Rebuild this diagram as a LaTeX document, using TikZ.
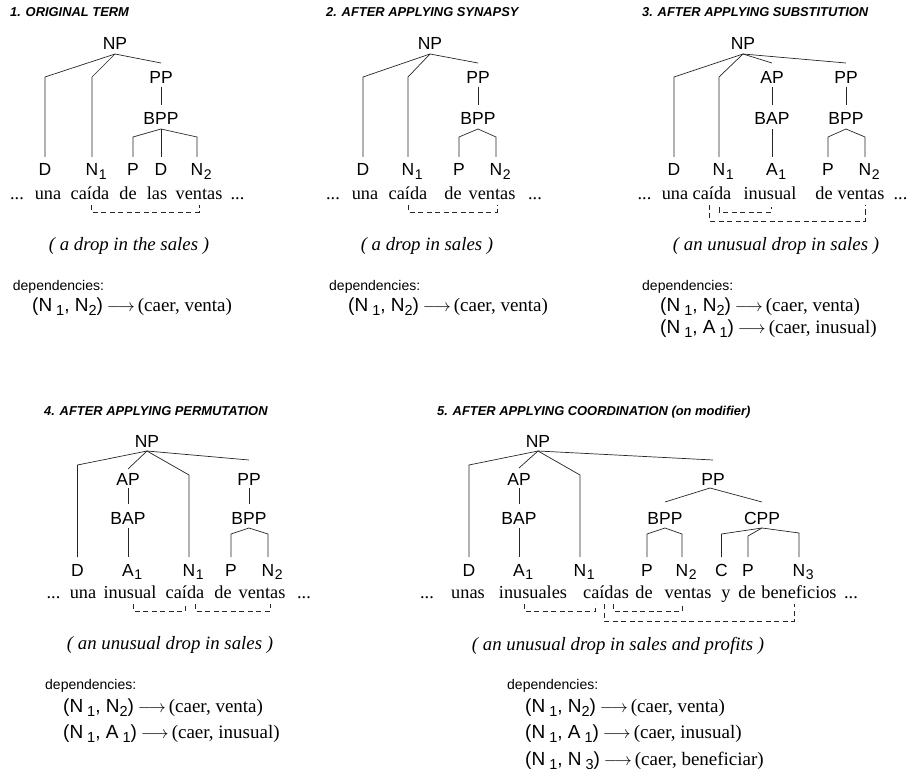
\documentclass[tikz,border=0pt]{standalone}
\usepackage{fontspec}
\setmainfont{Liberation Serif}
\setsansfont{Liberation Sans}
\usetikzlibrary{calc}
% subscript that does not widen the node (lines attach above the letter)
\newcommand\tsub[1]{\rlap{\hspace{0.6pt}\raisebox{-3.5pt}{\fontsize{14}{14}\selectfont #1}}}
% subscript used in the dependency lists
\newcommand\dsub[1]{\raisebox{-4pt}{\fontsize{14.5}{14.5}\selectfont #1}}
\newcommand\darr{\hspace{4pt}$\longrightarrow$\hspace{3pt}}

\begin{document}
\begin{tikzpicture}[x=1pt,y=-1pt,
  tn/.style={font=\sffamily\fontsize{17.5}{17.5}\selectfont, inner sep=0pt, outer sep=0pt, text height=12pt, text depth=0pt},
  wd/.style={font=\fontsize{18.3}{18.3}\selectfont, inner sep=0pt, anchor=base},
  ttl/.style={font=\sffamily\bfseries\itshape\fontsize{12.9}{12.9}\selectfont, inner sep=0pt, anchor=base west},
  gl/.style={font=\itshape\fontsize{18.8}{18.8}\selectfont, inner sep=0pt},
  dh/.style={font=\sffamily\fontsize{14}{14}\selectfont, inner sep=0pt, anchor=base west},
  dl/.style={font=\fontsize{19}{19}\selectfont, inner sep=0pt, anchor=base west},
  tl/.style={line width=0.7pt, black!85},
  tleaf/.style={tl, shorten >=7pt},
  tvert/.style={tl, shorten >=8pt},
  dep/.style={line width=0.6pt, black!85, dash pattern=on 5pt off 3.5pt}
]
\useasboundingbox (0,0) rectangle (911,773);

% ---------------- 1. original term ----------------
\node[ttl] (t1) at (10,17) {1. ORIGINAL TERM};
\node[tn] (np1) at (115,44) {NP};
\node[tn] (pp1) at (161,78) {PP};
\node[tn] (bpp1) at (161,119) {BPP};
\node[tn] (d1) at (45,170) {D};
\node[tn] (n1) at (92,170) {N\tsub{1}};
\node[tn] (p1) at (133,170) {P};
\node[tn] (dd1) at (161,170) {D};
\node[tn] (nn1) at (197,170) {N\tsub{2}};
\coordinate (np1x) at ([yshift=-4pt]np1.south);
\draw[tleaf] (np1x) -- (d1 |- 0,77) -- (d1.north);
\draw[tleaf] (np1x) -- (n1 |- 0,77) -- (n1.north);
\draw[tl] (np1x) -- (pp1 |- 0,63);
\draw[tvert] ([yshift=-3pt]pp1.south) -- (bpp1.north);
\coordinate (bpp1x) at ([yshift=-4pt]bpp1.south);
\draw[tleaf] (bpp1x) -- (p1 |- 0,137) -- (p1.north);
\draw[tleaf] (bpp1x) -- (dd1.north);
\draw[tleaf] (bpp1x) -- (nn1 |- 0,137) -- (nn1.north);
\node[wd] (w1a) at (17,199.5) {...};
\node[wd] (una1) at (48,199.5) {una};
\node[wd] (caida1) at (90,199.5) {caída};
\node[wd] (de1) at (128,199.5) {de};
\node[wd] (las1) at (157,199.5) {las};
\node[wd] (ventas1) at (199,199.5) {ventas};
\node[wd] (w1b) at (237.5,199.5) {...};
\draw[dep] ([xshift=1pt,yshift=-5.5pt]caida1.base) |- ([yshift=-12.5pt]ventas1.base) -- ([yshift=-5.5pt]ventas1.base);
\node[gl] (g1) at (129,246) {( a drop in the sales )};
\node[dh] (dh1) at (12.7,290) {dependencies:};
\node[dl] (dl1) at (32,311.5) {{\sffamily (N\hspace{4pt}\dsub{1}, N\dsub{2})}\darr(caer, venta)};

% ---------------- 2. synapsy ----------------
\node[ttl] (t2) at (326,17) {2. AFTER APPLYING SYNAPSY};
\node[tn] (np2) at (430,44) {NP};
\node[tn] (pp2) at (478,78) {PP};
\node[tn] (bpp2) at (478,119) {BPP};
\node[tn] (d2) at (363,170) {D};
\node[tn] (n2) at (408,170) {N\tsub{1}};
\node[tn] (p2) at (459,170) {P};
\node[tn] (nn2) at (496,170) {N\tsub{2}};
\coordinate (np2x) at ([yshift=-4pt]np2.south);
\draw[tleaf] (np2x) -- (d2 |- 0,77) -- (d2.north);
\draw[tleaf] (np2x) -- (n2 |- 0,77) -- (n2.north);
\draw[tl] (np2x) -- (pp2 |- 0,63);
\draw[tvert] ([yshift=-3pt]pp2.south) -- (bpp2.north);
\coordinate (bpp2x) at ([yshift=-4pt]bpp2.south);
\draw[tleaf] (bpp2x) -- (p2 |- 0,137) -- (p2.north);
\draw[tleaf] (bpp2x) -- (nn2 |- 0,137) -- (nn2.north);
\node[wd] (w2a) at (333,199.5) {...};
\node[wd] (una2) at (365,199.5) {una};
\node[wd] (caida2) at (408,199.5) {caída};
\node[wd] (de2) at (453,199.5) {de};
\node[wd] (ventas2) at (492,199.5) {ventas};
\node[wd] (w2b) at (535,199.5) {...};
\draw[dep] ([yshift=-5.5pt]caida2.base) |- ([xshift=5pt,yshift=-12.5pt]ventas2.base) -- ([xshift=5pt,yshift=-5.5pt]ventas2.base);
\node[gl] (g2) at (427,246) {( a drop in sales )};
\node[dh] (dh2) at (329,290) {dependencies:};
\node[dl] (dl2) at (348,311.5) {{\sffamily (N\hspace{4pt}\dsub{1}, N\dsub{2})}\darr(caer, venta)};

% ---------------- 3. substitution ----------------
\node[ttl] (t3) at (642,17) {3. AFTER APPLYING SUBSTITUTION};
\node[tn] (np3) at (743,44) {NP};
\node[tn] (ap3) at (772,78) {AP};
\node[tn] (bap3) at (772,119) {BAP};
\node[tn] (pp3) at (846,78) {PP};
\node[tn] (bpp3) at (846,119) {BPP};
\node[tn] (d3) at (674,170) {D};
\node[tn] (n3) at (719,170) {N\tsub{1}};
\node[tn] (a3) at (772,170) {A\tsub{1}};
\node[tn] (p3) at (828,170) {P};
\node[tn] (nn3) at (865,170) {N\tsub{2}};
\coordinate (np3x) at ([yshift=-4pt]np3.south);
\draw[tleaf] (np3x) -- (d3 |- 0,77) -- (d3.north);
\draw[tleaf] (np3x) -- (n3 |- 0,77) -- (n3.north);
\draw[tl] (np3x) -- (ap3 |- 0,63);
\draw[tl] (np3x) -- (pp3 |- 0,63);
\draw[tvert] ([yshift=-3pt]ap3.south) -- (bap3.north);
\draw[tleaf] ([yshift=-4pt]bap3.south) -- (a3.north);
\draw[tvert] ([yshift=-3pt]pp3.south) -- (bpp3.north);
\coordinate (bpp3x) at ([yshift=-4pt]bpp3.south);
\draw[tleaf] (bpp3x) -- (p3 |- 0,137) -- (p3.north);
\draw[tleaf] (bpp3x) -- (nn3 |- 0,137) -- (nn3.north);
\node[wd] (w3a) at (644.5,199.5) {...};
\node[wd] (una3) at (675,199.5) {una};
\node[wd] (caida3) at (712,199.5) {caída};
\node[wd] (inusual3) at (770,199.5) {inusual};
\node[wd] (de3) at (824,199.5) {de};
\node[wd] (ventas3) at (861,199.5) {ventas};
\node[wd] (w3b) at (900.5,199.5) {...};
\draw[dep] ([xshift=7pt,yshift=-8pt]caida3.base) |- ([xshift=1pt,yshift=-12.5pt]inusual3.base) -- ([xshift=1pt,yshift=-8pt]inusual3.base);
\draw[dep] ([xshift=-3pt,yshift=-5.5pt]caida3.base) |- ([xshift=4pt,yshift=-21.5pt]ventas3.base) -- ([xshift=4pt,yshift=-5.5pt]ventas3.base);
\node[gl] (g3) at (776,246) {( an unusual drop in sales )};
\node[dh] (dh3) at (642,290) {dependencies:};
\node[dl] (dl3a) at (660,311.5) {{\sffamily (N\hspace{4pt}\dsub{1}, N\dsub{2})}\darr(caer, venta)};
\node[dl] (dl3b) at (660,333.5) {{\sffamily (N\hspace{4pt}\dsub{1}, A\hspace{4pt}\dsub{1})}\darr(caer, inusual)};

% ---------------- 4. permutation ----------------
\node[ttl] (t4) at (44,415) {4. AFTER APPLYING PERMUTATION};
\node[tn] (np4) at (147,441) {NP};
\node[tn] (ap4) at (128,479) {AP};
\node[tn] (bap4) at (128,518) {BAP};
\node[tn] (pp4) at (249,479) {PP};
\node[tn] (bpp4) at (249,518) {BPP};
\node[tn] (d4) at (77.5,570) {D};
\node[tn] (a4) at (128,570) {A\tsub{1}};
\node[tn] (n4) at (189,570) {N\tsub{1}};
\node[tn] (p4) at (231,570) {P};
\node[tn] (nn4) at (268,570) {N\tsub{2}};
\coordinate (np4x) at ([yshift=-4pt]np4.south);
\draw[tleaf] (np4x) -- (d4 |- 0,465) -- (d4.north);
\draw[tl] (np4x) -- (ap4 |- 0,469);
\draw[tleaf] (np4x) -- (n4 |- 0,475) -- (n4.north);
\draw[tl] (np4x) -- (pp4 |- 0,460);
\draw[tvert] ([yshift=-3pt]ap4.south) -- (bap4.north);
\draw[tleaf] ([yshift=-4pt]bap4.south) -- (a4.north);
\draw[tvert] ([yshift=-3pt]pp4.south) -- (bpp4.north);
\coordinate (bpp4x) at ([yshift=-4pt]bpp4.south);
\draw[tleaf] (bpp4x) -- (p4 |- 0,534) -- (p4.north);
\draw[tleaf] (bpp4x) -- (nn4 |- 0,534) -- (nn4.north);
\node[wd] (w4a) at (53.5,598) {...};
\node[wd] (una4) at (83,598) {una};
\node[wd] (inusual4) at (130,598) {inusual};
\node[wd] (caida4) at (185,598) {caída};
\node[wd] (de4) at (223,598) {de};
\node[wd] (ventas4) at (262,598) {ventas};
\node[wd] (w4b) at (304,598) {...};
\draw[dep] ([xshift=3pt,yshift=-6pt]inusual4.base) |- ([yshift=-13pt]caida4.base) -- ([yshift=-6pt]caida4.base);
\draw[dep] ([xshift=10pt,yshift=-6pt]caida4.base) |- ([xshift=8pt,yshift=-13pt]ventas4.base) -- ([xshift=8pt,yshift=-6pt]ventas4.base);
\node[gl] (g4) at (170,645) {( an unusual drop in sales )};
\node[dh] (dh4) at (45,689) {dependencies:};
\node[dl] (dl4a) at (63,712) {{\sffamily (N\hspace{4pt}\dsub{1}, N\dsub{2})}\darr(caer, venta)};
\node[dl] (dl4b) at (63,738.5) {{\sffamily (N\hspace{4pt}\dsub{1}, A\hspace{4pt}\dsub{1})}\darr(caer, inusual)};

% ---------------- 5. coordination ----------------
\node[ttl] (t5) at (437,415) {5. AFTER APPLYING COORDINATION (on modifier)};
\node[tn] (np5) at (538,441) {NP};
\node[tn] (ap5) at (519,479) {AP};
\node[tn] (bap5) at (519,518) {BAP};
\node[tn] (pp5) at (713,479) {PP};
\node[tn] (bpp5) at (665,518) {BPP};
\node[tn] (cpp5) at (762,518) {CPP};
\node[tn] (d5) at (469,570) {D};
\node[tn] (a5) at (519,570) {A\tsub{1}};
\node[tn] (n5) at (580,570) {N\tsub{1}};
\node[tn] (p5) at (647,570) {P};
\node[tn] (nn5) at (682,570) {N\tsub{2}};
\node[tn] (c5) at (721.5,570) {C};
\node[tn] (pc5) at (748,570) {P};
\node[tn] (n5c) at (799,570) {N\tsub{3}};
\coordinate (np5x) at ([yshift=-4pt]np5.south);
\draw[tleaf] (np5x) -- (d5 |- 0,465) -- (d5.north);
\draw[tl] (np5x) -- (ap5 |- 0,468);
\draw[tleaf] (np5x) -- (n5 |- 0,475) -- (n5.north);
\draw[tl] (np5x) -- (pp5 |- 0,460);
\draw[tvert] ([yshift=-3pt]ap5.south) -- (bap5.north);
\draw[tleaf] ([yshift=-4pt]bap5.south) -- (a5.north);
\coordinate (pp5x) at ([xshift=-3pt,yshift=-3pt]pp5.south);
\draw[tl] (pp5x) -- (bpp5 |- 0,502);
\draw[tl] (pp5x) -- (cpp5 |- 0,502);
\coordinate (bpp5x) at ([yshift=-4pt]bpp5.south);
\draw[tleaf] (bpp5x) -- (p5 |- 0,534) -- (p5.north);
\draw[tleaf] (bpp5x) -- (nn5 |- 0,534) -- (nn5.north);
\coordinate (cpp5x) at ([yshift=-4pt]cpp5.south);
\draw[tleaf] (cpp5x) -- (c5 |- 0,534) -- (c5.north);
\draw[tleaf] (cpp5x) -- (pc5 |- 0,536) -- (pc5.north);
\draw[tleaf] (cpp5x) -- (n5c |- 0,533) -- (n5c.north);
\node[wd] (w5a) at (427,598) {...};
\node[wd] (unas5) at (468,598) {unas};
\node[wd] (inusuales5) at (533,598) {inusuales};
\node[wd] (caidas5) at (606,598) {caídas};
\node[wd] (de5a) at (644,598) {de};
\node[wd] (ventas5) at (688,598) {ventas};
\node[wd] (y5) at (726,598) {y};
\node[wd] (de5b) at (747,598) {de};
\node[wd] (beneficios5) at (799,598) {beneficios};
\node[wd] (w5b) at (851,598) {...};
\draw[dep] ([xshift=-9pt,yshift=-6pt]inusuales5.base) |- ([xshift=-11pt,yshift=-13pt]caidas5.base) -- ([xshift=-11pt,yshift=-6pt]caidas5.base);
\draw[dep] ([xshift=7pt,yshift=-6pt]caidas5.base) |- ([xshift=-6pt,yshift=-13pt]ventas5.base) -- ([xshift=-6pt,yshift=-6pt]ventas5.base);
\draw[dep] ([xshift=-2pt,yshift=-6pt]caidas5.base) |- ([xshift=-5pt,yshift=-23pt]beneficios5.base) -- ([xshift=-5pt,yshift=-6pt]beneficios5.base);
\node[gl] (g5) at (618,646) {( an unusual drop in sales and profits )};
\node[dh] (dh5) at (507,689) {dependencies:};
\node[dl] (dl5a) at (525,712) {{\sffamily (N\hspace{4pt}\dsub{1}, N\dsub{2})}\darr(caer, venta)};
\node[dl] (dl5b) at (525,738.5) {{\sffamily (N\hspace{4pt}\dsub{1}, A\hspace{4pt}\dsub{1})}\darr(caer, inusual)};
\node[dl] (dl5c) at (525,765) {{\sffamily (N\hspace{4pt}\dsub{1}, N\hspace{4pt}\dsub{3})}\darr(caer, beneficiar)};
\end{tikzpicture}
\end{document}
